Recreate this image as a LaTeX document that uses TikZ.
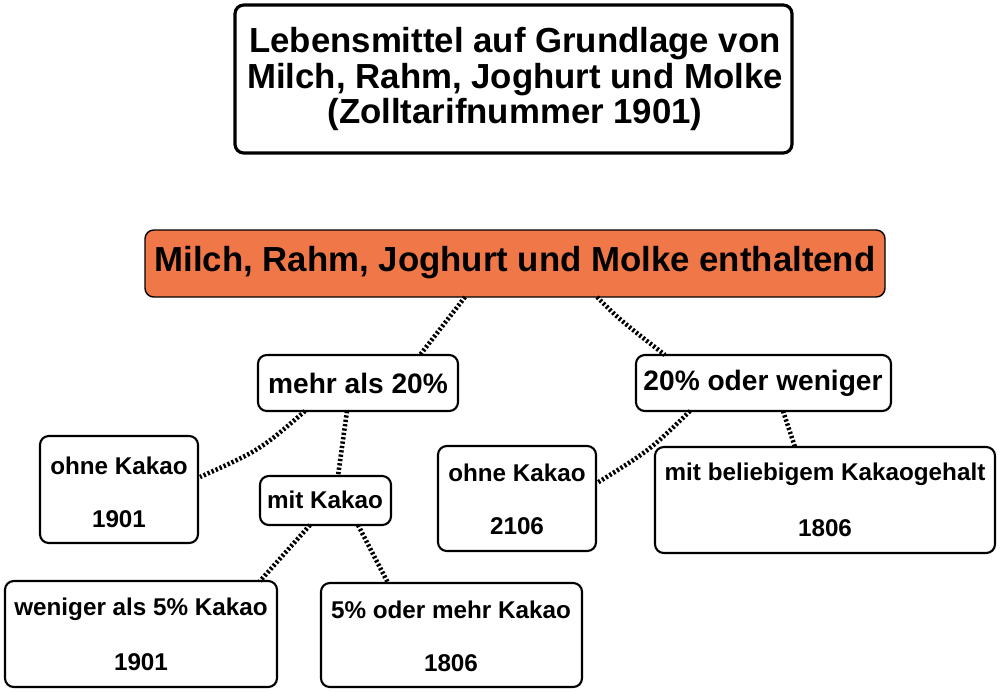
\documentclass[tikz,border=0pt]{standalone}
\usepackage{fontspec}
\setmainfont{Liberation Sans}
\begin{document}
\begin{tikzpicture}[x={(0.02cm,0)},y={(0,-0.02cm)},
 box/.style={draw=black,line width=1.2pt,rounded corners=5pt,fill=white},
 lnk/.style={line width=2.6pt,dash pattern=on 1.3pt off 1.2pt},
 t/.style={font=\bfseries\fontsize{13.8}{16}\selectfont}]
\useasboundingbox (0,0) rectangle (1000,691);
\draw[box,line width=1.8pt] (235,5) rectangle (792,153);
\node[font=\bfseries\fontsize{19.8}{20}\selectfont,align=center] (title) at (515,79) {Lebensmittel auf Grundlage von\\Milch, Rahm, Joghurt und Molke\\(Zolltarifnummer 1901)};
\draw[box,line width=0.8pt,fill={rgb,255:red,240;green,120;blue,72}] (145,230) rectangle (885,297);
\node[font=\bfseries\fontsize{19.8}{22}\selectfont] (top) at (515,263) {Milch, Rahm, Joghurt und Molke enthaltend};
\coordinate (tb1) at (465,297); \coordinate (tb2) at (597,297);
% level 2
\draw[box] (258,355) rectangle (458,411);
\node[font=\bfseries\fontsize{16}{18}\selectfont] (m) at (358,383) {mehr als 20\%};
\draw[box] (636,355) rectangle (891,411);
\node[font=\bfseries\fontsize{16}{18}\selectfont] (w) at (763,383) {20\% oder weniger};
% leaves
\draw[box] (40,436) rectangle (198,543);
\node[t] (o1) at (119,466) {ohne Kakao}; \node[t] (o1n) at (119,519) {1901};
\draw[box] (260,476) rectangle (391,525);
\node[t] (mk) at (325,500) {mit Kakao};
\draw[box] (5,581) rectangle (277,687);
\node[t] (wk) at (141,609) {weniger als 5\% Kakao}; \node[t] at (141,662) {1901};
\draw[box] (321,583) rectangle (582,687);
\node[t] (mk5) at (451,610) {5\% oder mehr Kakao}; \node[t] at (451,663) {1806};
\draw[box] (438,446) rectangle (596,551);
\node[t] (o2) at (517,473) {ohne Kakao}; \node[t] at (517,526) {2106};
\draw[box] (655,447) rectangle (995,553);
\node[t] (bk) at (825,474) {mit beliebigem Kakaogehalt}; \node[t] at (825,528) {1806};
% connectors
\draw[lnk] (tb1) -- (420,355);
\draw[lnk] (tb2) .. controls (620,320) .. (665,355);
\draw[lnk] (347,411) -- (338,476);
\draw[lnk] (305,411) .. controls (260,450) .. (200,477);
\draw[lnk] (310,525) -- (260,581);
\draw[lnk] (358,525) -- (388,583);
\draw[lnk] (690,411) .. controls (650,450) .. (597,483);
\draw[lnk] (783,411) -- (795,447);
\end{tikzpicture}
\end{document}
